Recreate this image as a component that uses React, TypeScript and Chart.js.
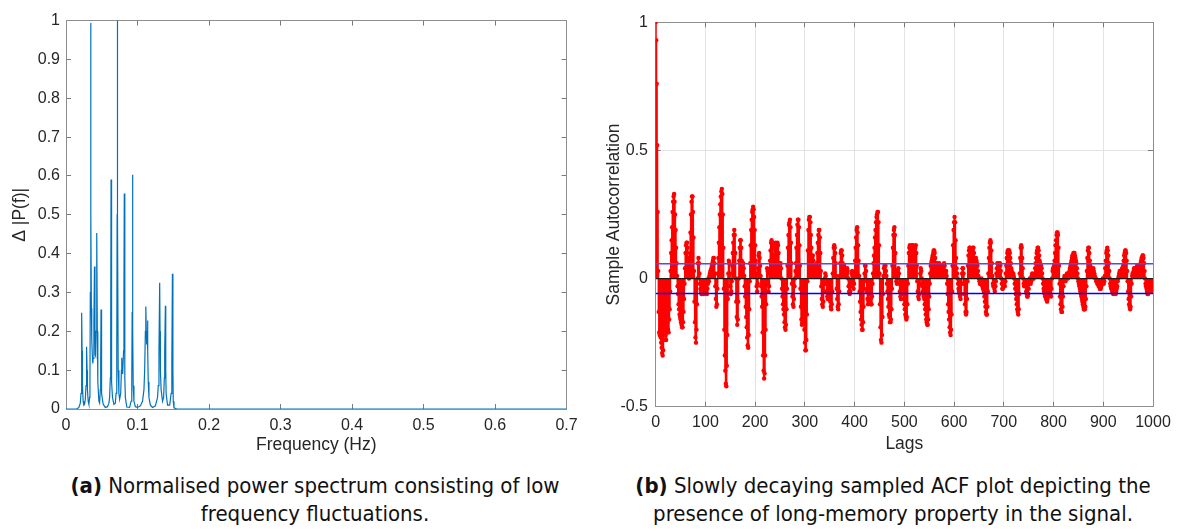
import React, { useEffect, useRef } from "react";
import { Chart, registerables } from "chart.js";

Chart.register(...registerables);
Chart.defaults.font.family = "'Liberation Sans', Arial, Helvetica, sans-serif";

// ---------- (a) power spectrum ----------
const freqHz = [
  0, 0.015, 0.018, 0.02, 0.021, 0.0215, 0.022, 0.0222, 0.0225, 0.023, 0.024, 0.025,
  0.026, 0.027, 0.028, 0.0285, 0.029, 0.0295, 0.03, 0.031, 0.032, 0.033, 0.0335,
  0.034, 0.0345, 0.0347, 0.0349, 0.0355, 0.036, 0.037, 0.0375, 0.038, 0.039, 0.0398,
  0.0405, 0.041, 0.0415, 0.042, 0.043, 0.0438, 0.0445, 0.046, 0.047, 0.048, 0.0485,
  0.049, 0.0495, 0.05, 0.052, 0.055, 0.058, 0.06, 0.061, 0.062, 0.0625, 0.063,
  0.0635, 0.064, 0.065, 0.067, 0.069, 0.07, 0.071, 0.0715, 0.0718, 0.0722, 0.073,
  0.074, 0.075, 0.0765, 0.0775, 0.078, 0.0785, 0.079, 0.0795, 0.0805, 0.081, 0.0815,
  0.082, 0.0825, 0.083, 0.085, 0.089, 0.091, 0.092, 0.0925, 0.093, 0.0935, 0.094,
  0.095, 0.097, 0.1, 0.104, 0.107, 0.109, 0.11, 0.111, 0.1116, 0.1123, 0.1128,
  0.1135, 0.114, 0.1145, 0.115, 0.116, 0.118, 0.121, 0.125, 0.128, 0.129, 0.13,
  0.131, 0.1315, 0.132, 0.133, 0.135, 0.1365, 0.1375, 0.138, 0.139, 0.1395, 0.14,
  0.142, 0.145, 0.147, 0.148, 0.1488, 0.1495, 0.15, 0.151, 0.155, 0.7,
];
const powerNorm = [
  0, 0, 0.004, 0.015, 0.04, 0.08, 0.2, 0.248, 0.15, 0.06, 0.02, 0.01,
  0.012, 0.025, 0.06, 0.11, 0.16, 0.1, 0.05, 0.02, 0.012, 0.03, 0.08,
  0.3, 0.95, 0.994, 0.5, 0.26, 0.18, 0.13, 0.117, 0.13, 0.22, 0.367,
  0.2, 0.14, 0.137, 0.2, 0.453, 0.2, 0.07, 0.02, 0.015, 0.05, 0.12,
  0.256, 0.1, 0.04, 0.012, 0.004, 0.006, 0.015, 0.03, 0.08, 0.2, 0.591,
  0.2, 0.07, 0.03, 0.012, 0.015, 0.04, 0.15, 0.5, 1.0, 0.5, 0.1,
  0.04, 0.025, 0.04, 0.1, 0.132, 0.1, 0.12, 0.09, 0.15, 0.3, 0.555,
  0.25, 0.08, 0.03, 0.005, 0.004, 0.02, 0.08, 0.25, 0.603, 0.2, 0.06,
  0.02, 0.006, 0.004, 0.008, 0.02, 0.05, 0.1, 0.2, 0.264, 0.2, 0.166,
  0.2, 0.228, 0.15, 0.07, 0.03, 0.01, 0.004, 0.008, 0.03, 0.06, 0.15,
  0.325, 0.2, 0.1, 0.05, 0.02, 0.03, 0.08, 0.15, 0.266, 0.1, 0.04,
  0.01, 0.01, 0.04, 0.12, 0.348, 0.1, 0.02, 0.003, 0, 0,
];
const freqTicks = [0, 0.1, 0.2, 0.3, 0.4, 0.5, 0.6, 0.7];
const freqTickLabels = ["0", "0.1", "0.2", "0.3", "0.4", "0.5", "0.6", "0.7"];
const powerTicks = [0, 0.1, 0.2, 0.3, 0.4, 0.5, 0.6, 0.7, 0.8, 0.9, 1];
const powerTickLabels = ["0", "0.1", "0.2", "0.3", "0.4", "0.5", "0.6", "0.7", "0.8", "0.9", "1"];
const spectrumXTitle = "Frequency (Hz)";
const spectrumYTitle = "\u0394 |P(f)|";

// ---------- (b) sample ACF, lags 0..1000 ----------
const acfValues = [
  1, 0.93, 0.76, 0.52, 0.26, 0.03, -0.13, -0.21, -0.22, -0.2,
  -0.23, -0.25, -0.27, -0.29, -0.3, -0.28, -0.24, -0.2, -0.16, -0.18,
  -0.22, -0.24, -0.21, -0.17, -0.15, -0.2, -0.21, -0.16, -0.12, -0.05,
  0.03, 0.1, 0.15, 0.2, 0.26, 0.3, 0.32, 0.33, 0.3, 0.25,
  0.19, 0.12, 0.06, 0.01, -0.03, -0.06, -0.1, -0.12, -0.14, -0.15,
  -0.16, -0.17, -0.18, -0.19, -0.19, -0.17, -0.13, -0.08, -0.02, 0.04,
  0.1, 0.13, 0.14, 0.14, 0.12, 0.08, 0.03, 0.0, 0.03, 0.1,
  0.18, 0.25, 0.3, 0.32, 0.32, 0.26, 0.16, 0.03, -0.09, -0.17,
  -0.23, -0.25, -0.2, -0.1, 0.0, 0.06, 0.08, 0.06, 0.02, -0.02,
  -0.04, -0.05, -0.06, -0.06, -0.05, -0.04, -0.05, -0.06, -0.05, -0.03,
  -0.02, -0.04, -0.05, -0.06, -0.04, -0.02, 0.0, -0.01, 0.01, 0.02,
  0.03, 0.02, 0.04, 0.05, 0.06, 0.07, 0.08, 0.08, 0.06, 0.02,
  -0.03, -0.08, -0.11, -0.1, -0.04, 0.02, 0.08, 0.14, 0.2, 0.25,
  0.29, 0.32, 0.34, 0.35, 0.33, 0.25, 0.12, -0.04, -0.2, -0.3,
  -0.36, -0.41, -0.42, -0.34, -0.22, -0.08, 0.02, 0.07, 0.06, 0.02,
  -0.03, -0.06, -0.05, -0.01, 0.05, 0.1, 0.14, 0.17, 0.19, 0.17,
  0.1, 0.0, -0.09, -0.15, -0.18, -0.16, -0.09, 0.0, 0.07, 0.12,
  0.15, 0.15, 0.12, 0.07, 0.03, 0.05, 0.06, 0.04, 0.01, -0.03,
  -0.07, -0.11, -0.15, -0.19, -0.23, -0.26, -0.27, -0.22, -0.12, -0.01,
  0.06, 0.13, 0.19, 0.23, 0.26, 0.27, 0.28, 0.27, 0.24, 0.19,
  0.13, 0.07, 0.02, -0.03, -0.05, -0.02, 0.04, 0.09, 0.1, 0.08,
  0.05, 0.01, -0.03, -0.07, -0.11, -0.21, -0.3, -0.36, -0.39, -0.37,
  -0.3, -0.2, -0.1, -0.02, 0.04, 0.03, -0.02, -0.05, -0.03, 0.02,
  0.07, 0.11, 0.14, 0.15, 0.14, 0.12, 0.09, 0.07, 0.09, 0.12,
  0.13, 0.14, 0.13, 0.1, 0.12, 0.14, 0.13, 0.1, 0.06, 0.03,
  0.05, 0.06, 0.04, 0.0, -0.04, -0.07, -0.1, -0.12, -0.14, -0.17,
  -0.19, -0.2, -0.18, -0.12, -0.04, 0.05, 0.12, 0.17, 0.21, 0.22,
  0.23, 0.2, 0.14, 0.06, -0.02, -0.07, -0.1, -0.11, -0.08, -0.03,
  0.0, 0.03, 0.06, 0.12, 0.17, 0.21, 0.23, 0.23, 0.2, 0.13,
  0.05, -0.04, -0.11, -0.16, -0.18, -0.17, -0.12, -0.1, -0.15, -0.2,
  -0.25, -0.28, -0.28, -0.24, -0.14, -0.01, 0.11, 0.19, 0.23, 0.24,
  0.24, 0.22, 0.17, 0.12, 0.09, 0.08, 0.09, 0.07, 0.04, 0.05,
  0.05, 0.04, 0.02, 0.03, 0.06, 0.1, 0.14, 0.17, 0.19, 0.19,
  0.16, 0.1, 0.03, -0.03, -0.08, -0.1, -0.11, -0.09, -0.05, -0.02,
  0.0, 0.02, 0.01, -0.02, -0.05, -0.07, -0.08, -0.07, -0.05, -0.03,
  -0.06, -0.09, -0.11, -0.12, -0.1, -0.05, 0.02, 0.08, 0.12, 0.13,
  0.12, 0.1, 0.06, 0.01, -0.04, -0.08, -0.11, -0.12, -0.1, -0.05,
  0.01, 0.06, 0.1, 0.11, 0.11, 0.09, 0.06, 0.04, 0.04, 0.05,
  0.04, 0.03, 0.02, 0.01, 0.02, 0.04, 0.03, 0.0, -0.03, -0.05,
  -0.06, -0.05, -0.03, -0.01, 0.02, 0.03, 0.01, -0.02, -0.04, -0.02,
  0.02, 0.07, 0.12, 0.16, 0.19, 0.2, 0.18, 0.13, 0.07, 0.01,
  -0.05, -0.09, -0.13, -0.16, -0.18, -0.2, -0.2, -0.17, -0.11, -0.04,
  0.02, 0.05, 0.05, 0.03, -0.01, -0.05, -0.08, -0.1, -0.09, -0.06,
  -0.04, -0.06, -0.08, -0.1, -0.1, -0.07, -0.02, 0.02, 0.06, 0.09,
  0.12, 0.16, 0.19, 0.22, 0.24, 0.25, 0.26, 0.26, 0.22, 0.13,
  0.02, -0.1, -0.19, -0.24, -0.25, -0.22, -0.15, -0.06, 0.01, 0.04,
  0.05, 0.05, 0.05, 0.03, 0.01, -0.02, -0.05, -0.08, -0.11, -0.14,
  -0.15, -0.17, -0.17, -0.16, -0.12, -0.04, 0.05, 0.12, 0.17, 0.19,
  0.2, 0.17, 0.1, 0.03, -0.01, -0.02, 0.0, 0.03, 0.04, 0.02,
  -0.02, -0.05, -0.07, -0.08, -0.06, -0.03, -0.02, -0.04, -0.06, -0.08,
  -0.1, -0.12, -0.14, -0.15, -0.16, -0.15, -0.1, -0.02, 0.05, 0.1,
  0.12, 0.13, 0.12, 0.1, 0.09, 0.11, 0.13, 0.13, 0.11, 0.08,
  0.07, 0.09, 0.12, 0.13, 0.1, 0.05, -0.01, -0.05, -0.07, -0.08,
  -0.06, -0.02, 0.02, 0.04, 0.03, 0.0, -0.03, -0.05, -0.06, -0.07,
  -0.08, -0.1, -0.12, -0.14, -0.16, -0.17, -0.18, -0.18, -0.16, -0.12,
  -0.07, -0.02, 0.02, 0.05, 0.06, 0.07, 0.08, 0.09, 0.1, 0.11,
  0.11, 0.1, 0.08, 0.06, 0.05, 0.05, 0.06, 0.05, 0.04, 0.05,
  0.06, 0.05, 0.04, 0.03, 0.04, 0.05, 0.04, 0.02, 0.03, 0.05,
  0.06, 0.05, 0.03, 0.02, 0.03, 0.01, -0.02, -0.06, -0.1, -0.13,
  -0.16, -0.19, -0.21, -0.22, -0.2, -0.14, -0.05, 0.05, 0.13, 0.19,
  0.22, 0.24, 0.22, 0.15, 0.08, 0.04, 0.02, 0.0, -0.02, -0.04,
  -0.05, -0.06, -0.07, -0.08, -0.06, -0.02, 0.02, 0.04, 0.04, 0.02,
  -0.02, -0.06, -0.1, -0.13, -0.14, -0.13, -0.08, -0.01, 0.05, 0.09,
  0.11, 0.12, 0.12, 0.11, 0.09, 0.08, 0.09, 0.11, 0.12, 0.12,
  0.1, 0.07, 0.06, 0.07, 0.08, 0.07, 0.06, 0.05, 0.03, 0.01,
  0.0, -0.01, -0.02, -0.02, -0.01, 0.0, -0.02, -0.03, -0.04, -0.04,
  -0.05, -0.07, -0.09, -0.11, -0.13, -0.14, -0.14, -0.11, -0.05, 0.02,
  0.08, 0.12, 0.14, 0.15, 0.14, 0.11, 0.06, 0.01, -0.02, -0.03,
  -0.02, -0.04, -0.05, -0.03, -0.01, 0.02, 0.04, 0.06, 0.06, 0.05,
  0.05, 0.06, 0.06, 0.05, 0.03, 0.0, -0.02, -0.04, -0.04, -0.02,
  -0.01, -0.02, -0.03, -0.01, 0.02, 0.05, 0.08, 0.1, 0.11, 0.11,
  0.11, 0.11, 0.1, 0.08, 0.06, 0.04, 0.03, 0.02, 0.01, 0.02,
  0.01, 0.0, -0.02, -0.04, -0.06, -0.08, -0.1, -0.12, -0.13, -0.14,
  -0.12, -0.06, 0.02, 0.08, 0.12, 0.13, 0.12, 0.08, 0.04, 0.0,
  -0.02, -0.03, -0.02, -0.01, -0.03, -0.05, -0.06, -0.07, -0.07, -0.06,
  -0.04, -0.02, 0.0, -0.01, -0.02, -0.01, 0.01, 0.02, 0.01, 0.0,
  0.0, 0.01, 0.02, 0.04, 0.06, 0.08, 0.1, 0.11, 0.12, 0.12,
  0.11, 0.09, 0.07, 0.06, 0.05, 0.05, 0.04, 0.02, 0.0, -0.02,
  -0.04, -0.05, -0.06, -0.07, -0.07, -0.08, -0.08, -0.09, -0.08, -0.07,
  -0.06, -0.05, -0.04, -0.03, -0.06, -0.07, -0.04, 0.0, 0.03, 0.04,
  0.04, 0.05, 0.07, 0.1, 0.13, 0.15, 0.17, 0.18, 0.18, 0.17,
  0.12, 0.05, -0.02, -0.07, -0.1, -0.12, -0.13, -0.13, -0.11, -0.07,
  -0.03, 0.0, 0.01, 0.0, -0.01, 0.0, 0.01, 0.02, 0.01, 0.0,
  0.01, 0.02, 0.03, 0.04, 0.05, 0.06, 0.07, 0.08, 0.09, 0.09,
  0.1, 0.1, 0.1, 0.09, 0.08, 0.07, 0.06, 0.04, 0.02, 0.0,
  -0.01, -0.02, -0.03, -0.04, -0.05, -0.06, -0.07, -0.08, -0.09, -0.1,
  -0.11, -0.12, -0.12, -0.12, -0.11, -0.08, -0.03, 0.03, 0.08, 0.11,
  0.12, 0.12, 0.1, 0.07, 0.05, 0.04, 0.04, 0.03, 0.03, 0.02,
  0.04, 0.03, 0.02, 0.01, 0.0, 0.0, -0.01, -0.01, -0.02, -0.02,
  -0.02, -0.03, -0.03, -0.04, -0.04, -0.04, -0.03, -0.02, -0.01, 0.0,
  -0.01, -0.02, -0.01, 0.01, 0.04, 0.07, 0.1, 0.11, 0.12, 0.11,
  0.09, 0.06, 0.03, 0.0, -0.02, -0.03, -0.04, -0.04, -0.05, -0.05,
  -0.06, -0.05, -0.05, -0.04, -0.05, -0.06, -0.05, -0.04, -0.03, -0.01,
  0.0, 0.01, 0.02, 0.03, 0.02, 0.01, 0.02, 0.03, 0.04, 0.04,
  0.05, 0.07, 0.09, 0.1, 0.11, 0.11, 0.1, 0.07, 0.03, -0.01,
  -0.05, -0.08, -0.1, -0.11, -0.12, -0.11, -0.07, -0.02, 0.01, 0.02,
  0.02, 0.03, 0.04, 0.04, 0.03, 0.02, 0.03, 0.04, 0.05, 0.05,
  0.05, 0.04, 0.04, 0.05, 0.05, 0.06, 0.07, 0.08, 0.08, 0.09,
  0.09, 0.08, 0.06, 0.03, 0.0, -0.02, -0.03, -0.04, -0.05, -0.06,
  -0.06, -0.05, -0.04, -0.03, -0.04, -0.05, -0.05, -0.04, -0.03, -0.02,
  -0.03,
];
const confidenceBound = 0.058;
const lagTicks = [0, 100, 200, 300, 400, 500, 600, 700, 800, 900, 1000];
const lagTickLabels = ["0", "100", "200", "300", "400", "500", "600", "700", "800", "900", "1000"];
const acfTicks = [-0.5, 0, 0.5, 1];
const acfTickLabels = ["-0.5", "0", "0.5", "1"];
const acfXTitle = "Lags";
const acfYTitle = "Sample Autocorrelation";

const captionA = "Normalised power spectrum consisting of low frequency fluctuations.";
const captionB = "Slowly decaying sampled ACF plot depicting the presence of long-memory property in the signal.";

// ---------- styling helpers ----------
const BOX = "#8e8e8e";
const TICKMARK = "#7a7a7a";
const LABEL = "#262626";
const TRANSPARENT = "rgba(0,0,0,0)";

function makeAxis(o: any) {
  return {
    type: "linear",
    position: o.position,
    min: o.min,
    max: o.max,
    offset: false,
    afterBuildTicks: (s: any) => {
      s.ticks = o.vals.map((v: number) => ({ value: v }));
    },
    afterFit: o.afterFit,
    border: { display: true, color: BOX, width: 1 },
    grid: {
      display: true,
      offset: false,
      drawOnChartArea: !!o.gridOnArea,
      color: o.gridOnArea ? "#e3e3e3" : TRANSPARENT,
      lineWidth: 1,
      drawTicks: true,
      tickLength: -5,
      tickColor: TICKMARK,
      tickWidth: 1,
    },
    ticks: {
      display: true,
      autoSkip: false,
      maxRotation: 0,
      minRotation: 0,
      color: o.showLabels ? LABEL : TRANSPARENT,
      font: { size: 16 },
      padding: o.padding ?? 10,
      callback: (_v: any, i: number) => o.labels[i],
    },
    title: o.title
      ? {
          display: true,
          text: o.title,
          color: LABEL,
          font: { size: 17.5 },
          padding: o.titlePadding,
        }
      : { display: false },
  };
}

function SpectrumChart() {
  const ref = useRef<HTMLCanvasElement | null>(null);
  useEffect(() => {
    if (!ref.current) return;
    const pts = freqHz.map((f, i) => ({ x: f, y: powerNorm[i] }));
    const chart = new Chart(ref.current, {
      type: "line",
      data: {
        datasets: [
          {
            data: pts,
            borderColor: "#0072BD",
            borderWidth: 1.2,
            pointRadius: 0,
            tension: 0,
            fill: false,
          },
        ],
      },
      options: {
        animation: false,
        responsive: false,
        layout: { padding: { top: 11, right: 19, left: 0, bottom: 0 } },
        plugins: { legend: { display: false }, tooltip: { enabled: false } },
        scales: {
          x: makeAxis({
            position: "bottom", min: 0, max: 0.7, vals: freqTicks, labels: freqTickLabels,
            showLabels: true, padding: 12.3, title: spectrumXTitle,
            titlePadding: { top: 0, bottom: 4.5 },
            afterFit: (s: any) => { s.height = 51; },
          }),
          y: makeAxis({
            position: "left", min: 0, max: 1, vals: powerTicks, labels: powerTickLabels,
            showLabels: true, padding: 11, title: spectrumYTitle,
            titlePadding: { top: 9.5, bottom: 0 },
            afterFit: (s: any) => { s.width = 66; },
          }),
          x2: makeAxis({
            position: "top", min: 0, max: 0.7, vals: freqTicks, labels: freqTickLabels,
            showLabels: false, afterFit: (s: any) => { s.height = 0; },
          }),
          y2: makeAxis({
            position: "right", min: 0, max: 1, vals: powerTicks, labels: powerTickLabels,
            showLabels: false, afterFit: (s: any) => { s.width = 0; },
          }),
        },
      } as any,
    });
    return () => chart.destroy();
  }, []);
  return <canvas ref={ref} width={590} height={460} style={{ width: 590, height: 460, display: "block" }} />;
}

function AcfChart() {
  const ref = useRef<HTMLCanvasElement | null>(null);
  useEffect(() => {
    if (!ref.current) return;
    const pts = acfValues.map((v, lag) => ({ x: lag, y: v }));
    const lastLag = acfValues.length - 1;
    const chart = new Chart(ref.current, {
      type: "bar",
      data: {
        datasets: [
          {
            type: "line",
            label: "upper",
            data: [{ x: 0, y: confidenceBound }, { x: lastLag, y: confidenceBound }],
            borderColor: "#4a4aff",
            backgroundColor: "#4a4aff",
            borderWidth: 1.6,
            pointRadius: 0,
            showLine: true,
            order: 0,
          },
          {
            type: "line",
            label: "lower",
            data: [{ x: 0, y: -confidenceBound }, { x: lastLag, y: -confidenceBound }],
            borderColor: "#0000ff",
            backgroundColor: "#0000ff",
            borderWidth: 1.6,
            pointRadius: 0,
            showLine: true,
            order: 0,
          },
          {
            type: "line",
            label: "zero",
            data: [{ x: 0, y: 0 }, { x: lastLag, y: 0 }],
            borderColor: "#1a1a1a",
            backgroundColor: "#1a1a1a",
            borderWidth: 1.2,
            pointRadius: 0,
            showLine: true,
            order: 1,
          },
          {
            type: "scatter",
            label: "acf points",
            data: pts,
            pointRadius: 2.2,
            pointBackgroundColor: "#ff0000",
            backgroundColor: "#ff0000",
            pointBorderWidth: 0,
            borderColor: "#ff0000",
            order: 2,
          },
          {
            type: "bar",
            label: "acf stems",
            data: pts,
            backgroundColor: "#ff0000",
            borderWidth: 0,
            barThickness: 1.5,
            grouped: false,
            order: 3,
          },
        ],
      },
      options: {
        animation: false,
        responsive: false,
        layout: { padding: { top: 12, right: 25.5, left: 0, bottom: 0 } },
        plugins: { legend: { display: false }, tooltip: { enabled: false } },
        scales: {
          x: makeAxis({
            position: "bottom", min: 0, max: 1000, vals: lagTicks, labels: lagTickLabels,
            showLabels: true, gridOnArea: true, padding: 11.2, title: acfXTitle,
            titlePadding: { top: 0, bottom: 5.5 },
            afterFit: (s: any) => { s.height = 53.3; },
          }),
          y: makeAxis({
            position: "left", min: -0.5, max: 1, vals: acfTicks, labels: acfTickLabels,
            showLabels: true, gridOnArea: true, padding: 12.7, title: acfYTitle,
            titlePadding: { top: 13.5, bottom: 0 },
            afterFit: (s: any) => { s.width = 65.7; },
          }),
          x2: makeAxis({
            position: "top", min: 0, max: 1000, vals: lagTicks, labels: lagTickLabels,
            showLabels: false, afterFit: (s: any) => { s.height = 0; },
          }),
          y2: makeAxis({
            position: "right", min: -0.5, max: 1, vals: acfTicks, labels: acfTickLabels,
            showLabels: false, afterFit: (s: any) => { s.width = 0; },
          }),
        },
      } as any,
    });
    return () => chart.destroy();
  }, []);
  return <canvas ref={ref} width={592} height={460} style={{ width: 592, height: 460, display: "block" }} />;
}

const captionStyle: React.CSSProperties = {
  position: "absolute",
  top: 472,
  width: 600,
  textAlign: "center",
  fontFamily: "'DejaVu Sans Condensed', 'Liberation Sans Narrow', 'Roboto Condensed', 'Liberation Sans', sans-serif",
  fontSize: 22,
  lineHeight: "28px",
  color: "#111",
  whiteSpace: "nowrap",
};

export default function App() {
  const idxA = captionA.indexOf(" frequency");
  const idxB = captionB.indexOf(" presence");
  return (
    <div style={{ position: "absolute", left: 0, top: 0, width: 1182, height: 531, background: "#fff", overflow: "hidden" }}>
      <div style={{ position: "absolute", left: 0, top: 0 }}>
        <SpectrumChart />
      </div>
      <div style={{ position: "absolute", left: 590, top: 0 }}>
        <AcfChart />
      </div>
      <div style={{ ...captionStyle, left: 315 - 300 }}>
        <b>(a)</b> {captionA.slice(0, idxA)}
        <br />
        {captionA.slice(idxA + 1)}
      </div>
      <div style={{ ...captionStyle, left: 893 - 300 }}>
        <b>(b)</b> {captionB.slice(0, idxB)}
        <br />
        {captionB.slice(idxB + 1)}
      </div>
    </div>
  );
}
